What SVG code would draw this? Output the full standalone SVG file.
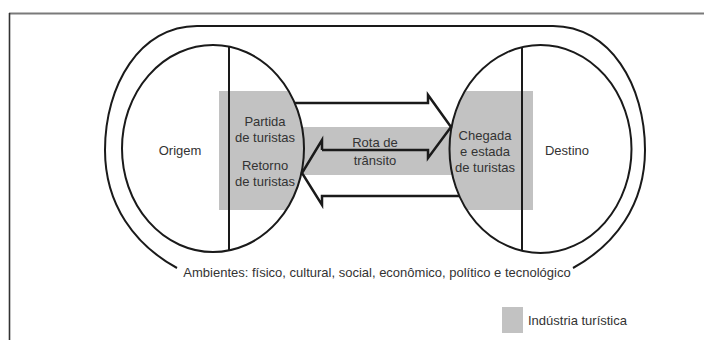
<svg xmlns="http://www.w3.org/2000/svg" width="704" height="340" viewBox="0 0 704 340">
<style>
.t{font-family:"Liberation Sans",Arial,sans-serif;font-size:13px;fill:#333;text-anchor:middle}
.ln{fill:none;stroke:#1a1a1a;stroke-width:2}
.ar{fill:none;stroke:#1a1a1a;stroke-width:2.5;stroke-linejoin:miter}
.g{fill:#c2c2c2}
</style>
<defs>
<clipPath id="ells">
<ellipse cx="213" cy="148.5" rx="91" ry="103.5"/>
<ellipse cx="540.5" cy="149" rx="91" ry="104"/>
</clipPath>
</defs>
<rect width="704" height="340" fill="#fff"/>
<g id="frame">
<line x1="9" y1="13.5" x2="704" y2="13.5" stroke="#7a7a7a" stroke-width="2"/>
<line x1="9.5" y1="13" x2="9.5" y2="340" stroke="#333" stroke-width="1.6"/>
</g>
<g id="industria">
<rect class="g" x="219" y="91" width="314" height="119" clip-path="url(#ells)"/>
<rect class="g" x="290" y="127" width="170" height="48"/>
</g>
<g id="ambientes">
<path class="ln" d="M177,268 C135,245 105,205 105,150 C105,85 140,26 197,26 L553,26 C610,26 645,85 645,150 C645,205 615,245 573,268"/>
<text class="t" x="377" y="276.5">Ambientes: físico, cultural, social, econômico, político e tecnológico</text>
</g>
<g id="origem">
<ellipse class="ln" cx="213" cy="148.5" rx="91" ry="103.5"/>
<line class="ln" x1="229" y1="46.6" x2="229" y2="250.4"/>
<text class="t" x="180" y="155">Origem</text>
<text class="t" x="265" y="125.5">Partida</text>
<text class="t" x="265" y="142">de turistas</text>
<text class="t" x="265" y="170">Retorno</text>
<text class="t" x="265" y="186">de turistas</text>
</g>
<g id="destino">
<ellipse class="ln" cx="540.5" cy="149" rx="91" ry="104"/>
<line class="ln" x1="522" y1="47.2" x2="522" y2="250.8"/>
<text class="t" x="485" y="140">Chegada</text>
<text class="t" x="485" y="156">e estada</text>
<text class="t" x="485" y="172">de turistas</text>
<text class="t" x="567" y="155">Destino</text>
</g>
<g id="connectors">
<path class="ar" d="M295,103 L428,103 L428,95 L451,127 L428,158 L428,150 L322,150"/>
<path class="ar" d="M459,196 L322,196 L322,205 L302,173 L322,140 L322,150"/>
</g>
<g id="rota">
<text class="t" x="375" y="146.5">Rota de</text>
<text class="t" x="375" y="165">trânsito</text>
</g>
<g id="legenda">
<rect class="g" x="502" y="307" width="21" height="26"/>
<text class="t" x="528" y="325" style="text-anchor:start">Indústria turística</text>
</g>
</svg>
